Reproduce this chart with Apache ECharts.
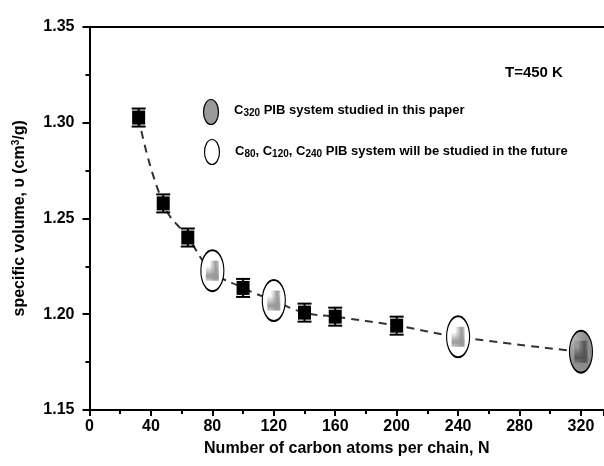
<!DOCTYPE html>
<html>
<head>
<meta charset="utf-8">
<script src="https://cdn.jsdelivr.net/npm/echarts@6/dist/echarts.min.js"></script>
<style>
  html, body { margin: 0; padding: 0; background: #fff; }
  #chart { width: 604px; height: 466px; }
</style>
</head>
<body>
<div id="chart"></div>
<script>
// simulated / literature points (black squares)
var squareN = [32, 48, 64, 100, 140, 160, 200];
var squareV = [1.3026, 1.2578, 1.2400, 1.2137, 1.2008, 1.1987, 1.1940];
var squareErr = [0.0047, 0.0047, 0.0047, 0.0047, 0.0047, 0.0047, 0.0047];
// systems for the future (white ellipses)
var futureN = [80, 120, 240];
var futureV = [1.2227, 1.2071, 1.1882];
// system studied in this paper (grey ellipse)
var studiedN = [320];
var studiedV = [1.1804];

var xTicks = [0, 40, 80, 120, 160, 200, 240, 280, 320];
var yTicks = [1.15, 1.20, 1.25, 1.30, 1.35];

var font = '"Liberation Sans", Arial, sans-serif';

function pairs(xs, ys) {
  return xs.map(function (x, i) { return [x, ys[i]]; });
}

// dashed guide line through all points, ordered by N
var fitData = pairs(squareN, squareV).concat(pairs(futureN, futureV), pairs(studiedN, studiedV))
  .sort(function (a, b) { return a[0] - b[0]; });

function gridPattern(bg, line) {
  var c = document.createElement('canvas');
  c.width = 3; c.height = 3;
  var ctx = c.getContext('2d');
  ctx.fillStyle = bg;
  ctx.fillRect(0, 0, 3, 3);
  ctx.fillStyle = line;
  ctx.fillRect(0, 0, 3, 1);
  ctx.fillRect(0, 0, 1, 3);
  return { image: c, repeat: 'repeat' };
}

var myChart = echarts.init(document.getElementById('chart'));

var option = {
  animation: false,
  backgroundColor: '#fff',
  grid: { left: 89.5, right: 0, top: 26.7, bottom: 56 },
  xAxis: [{
    type: 'value',
    min: 0, max: 335, interval: 40,
    name: 'Number of carbon atoms per chain, N',
    nameLocation: 'middle', nameGap: 31,
    nameTextStyle: { fontFamily: font, fontWeight: 'bold', fontSize: 16, color: '#000' },
    axisLine: { lineStyle: { color: '#000', width: 2 } },
    axisTick: { length: 6, lineStyle: { color: '#000', width: 2 } },
    minorTick: { show: true, splitNumber: 2, length: 4, lineStyle: { color: '#000', width: 2 } },
    splitLine: { show: false },
    axisLabel: {
      showMaxLabel: false, margin: 9,
      fontFamily: font, fontWeight: 'bold', fontSize: 16, color: '#000',
      formatter: function (v) { return xTicks.indexOf(v) >= 0 ? String(v) : ''; }
    }
  }, {
    type: 'value', position: 'top',
    min: 0, max: 335,
    axisLine: { show: true, onZero: false, lineStyle: { color: '#000', width: 2 } },
    axisTick: { show: false }, axisLabel: { show: false }, splitLine: { show: false }
  }],
  yAxis: {
    type: 'value',
    min: 1.15, max: 1.35, interval: 0.05,
    name: 'specific volume, \u03c5 (cm{sup|3}/g)',
    nameLocation: 'middle', nameGap: 61, nameRotate: 90,
    nameTextStyle: {
      fontFamily: font, fontWeight: 'bold', fontSize: 16, color: '#000',
      rich: { sup: { fontFamily: font, fontWeight: 'bold', fontSize: 10, color: '#000', verticalAlign: 'top', padding: [0, 0, 7, 0] } }
    },
    axisLine: { lineStyle: { color: '#000', width: 2 } },
    axisTick: { length: 7, lineStyle: { color: '#000', width: 2 } },
    minorTick: { show: true, splitNumber: 2, length: 4, lineStyle: { color: '#000', width: 2 } },
    splitLine: { show: false },
    axisLabel: {
      margin: 15,
      fontFamily: font, fontWeight: 'bold', fontSize: 16, color: '#000',
      formatter: function (v) { return v.toFixed(2); }
    }
  },
  series: [{
    type: 'line',
    data: fitData,
    smooth: 0.5,
    symbol: 'none',
    z: 1,
    lineStyle: { color: '#333', width: 2, type: [8, 6] }
  }, {
    type: 'custom',
    z: 3,
    data: squareN.map(function (n, i) { return [n, squareV[i] - squareErr[i], squareV[i] + squareErr[i]]; }),
    renderItem: function (params, api) {
      var lo = api.coord([api.value(0), api.value(1)]);
      var hi = api.coord([api.value(0), api.value(2)]);
      var w = 7;
      var st = { stroke: '#000', lineWidth: 2 };
      return {
        type: 'group',
        children: [
          { type: 'line', shape: { x1: lo[0], y1: lo[1], x2: hi[0], y2: hi[1] }, style: st },
          { type: 'line', shape: { x1: lo[0] - w, y1: lo[1], x2: lo[0] + w, y2: lo[1] }, style: st },
          { type: 'line', shape: { x1: hi[0] - w, y1: hi[1], x2: hi[0] + w, y2: hi[1] }, style: st }
        ]
      };
    }
  }, {
    type: 'scatter',
    z: 4,
    data: pairs(squareN, squareV),
    symbol: 'rect',
    symbolSize: [13, 14],
    itemStyle: { color: '#000', opacity: 1 }
  }, {
    type: 'scatter',
    z: 4,
    data: pairs(futureN, futureV),
    symbol: 'circle',
    symbolSize: [23, 41],
    itemStyle: { color: '#fff', borderColor: '#000', borderWidth: 1.5, opacity: 1 }
  }, {
    type: 'scatter',
    z: 5,
    data: pairs(futureN, futureV),
    symbol: 'rect',
    symbolSize: [13, 20],
    itemStyle: { color: gridPattern('#fff', '#999'), opacity: 1 }
  }, {
    type: 'scatter',
    z: 4,
    data: pairs(studiedN, studiedV),
    symbol: 'circle',
    symbolSize: [23, 42],
    itemStyle: { color: gridPattern('#b0b0b0', '#8a8a8a'), borderColor: '#000', borderWidth: 1.5, opacity: 1 }
  }, {
    type: 'scatter',
    z: 5,
    data: pairs(studiedN, studiedV),
    symbol: 'rect',
    symbolSize: [13, 22],
    itemStyle: { color: gridPattern('#999', '#555'), opacity: 1 }
  }],
  graphic: [{
    type: 'text', left: 505, top: 65,
    style: { text: 'T=450 K', font: 'bold 15px ' + font, fill: '#000' }
  }, {
    type: 'ellipse', shape: { cx: 211, cy: 112, rx: 7.5, ry: 12.5 },
    style: { fill: '#999', stroke: '#000', lineWidth: 1.2 }
  }, {
    type: 'ellipse', shape: { cx: 212, cy: 152, rx: 7.5, ry: 12.5 },
    style: { fill: '#fff', stroke: '#000', lineWidth: 1.2 }
  }, {
    type: 'text', left: 234, top: 104,
    style: {
      text: 'C{sub|320} PIB system studied in this paper',
      font: 'bold 13px ' + font, fill: '#000',
      rich: { sub: { font: 'bold 10px ' + font, fill: '#000', verticalAlign: 'bottom', padding: [6, 0, 0, 0] } }
    }
  }, {
    type: 'text', left: 235, top: 145,
    style: {
      text: 'C{sub|80}, C{sub|120}, C{sub|240} PIB system will be studied in the future',
      font: 'bold 13px ' + font, fill: '#000',
      rich: { sub: { font: 'bold 10px ' + font, fill: '#000', verticalAlign: 'bottom', padding: [6, 0, 0, 0] } }
    }
  }]
};

myChart.setOption(option);
</script>
</body>
</html>
